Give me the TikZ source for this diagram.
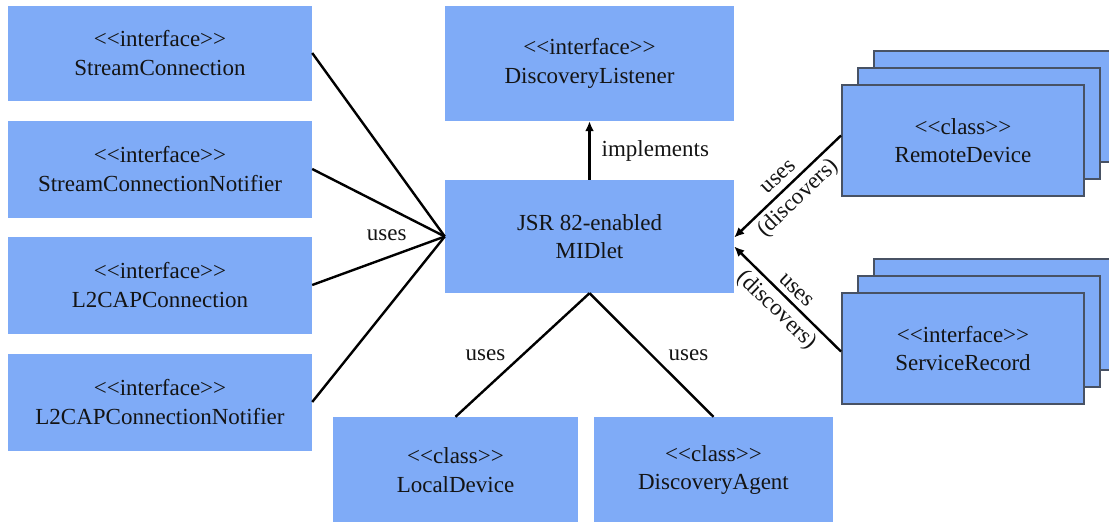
\documentclass[tikz,border=0pt]{standalone}
\usepackage{fontspec}
\newfontfamily\tnr{Liberation Serif}
\usetikzlibrary{arrows.meta,calc}
\definecolor{boxblue}{RGB}{127,171,247}
\definecolor{stackborder}{RGB}{72,82,100}
\definecolor{txt}{RGB}{20,20,20}
\begin{document}
\begin{tikzpicture}[x=1pt,y=-1pt,
  ubox/.style={fill=boxblue, inner sep=0pt, align=center, text=txt,
    font=\tnr\fontsize{23}{28.5}\selectfont},
  lbox/.style={ubox, minimum width=304pt, minimum height=97pt},
  cbox/.style={ubox, minimum width=289pt, minimum height=114pt},
  sbox/.style={ubox, draw=stackborder, line width=2pt, minimum width=242pt, minimum height=111pt},
  lbl/.style={text=txt, inner sep=0pt, font=\tnr\fontsize{23}{28}\selectfont},
  conn/.style={draw=black, line width=2.4pt},
  arr/.style={conn, -{Latex[length=10pt,width=9pt]}}]
\clip (0,0) rectangle (1109,522);
\fill[white] (0,0) rectangle (1109,522);

% left interface boxes
\node[lbox, minimum height=95pt] (sc)  at (160,53)  {<<interface>>\\StreamConnection};
\node[lbox] (scn) at (160,169) {<<interface>>\\StreamConnectionNotifier};
\node[lbox] (l2)  at (160,285) {<<interface>>\\L2CAPConnection};
\node[lbox] (l2n) at (160,402) {<<interface>>\\L2CAPConnectionNotifier};

% centre boxes
\node[cbox, minimum height=115pt] (dl)  at (589.5,63.5)  {<<interface>>\\DiscoveryListener};
\node[cbox, minimum height=113pt] (mid) at (589.5,236.5) {JSR 82-enabled\\MIDlet};

% bottom boxes
\node[ubox, minimum width=245pt, minimum height=106pt] (ld) at (455.5,470) {<<class>>\\LocalDevice};
\node[ubox, minimum width=239pt, minimum height=106pt] (da) at (713.5,470) {<<class>>\\DiscoveryAgent};

% stacked boxes on the right
\node[sbox] (rd3) at (995,106.5) {};
\node[sbox] (rd2) at (979,123.5) {};
\node[sbox] (rd)  at (963,140.5) {<<class>>\\RemoteDevice};
\node[sbox] (sr3) at (995,314.5) {};
\node[sbox] (sr2) at (979,331.5) {};
\node[sbox] (sr)  at (963,348.5) {<<interface>>\\ServiceRecord};

% connectors on the left
\draw[conn] (sc.east)  -- (mid.west);
\draw[conn] (scn.east) -- (mid.west);
\draw[conn] (l2.east)  -- (mid.west);
\draw[conn] (l2n.east) -- (mid.west);
\node[lbl, anchor=east] (uleft) at ($(mid.west)+(-38,-1)$) {uses};

% implements
\draw[arr] (mid.north) -- (dl.south) node[lbl, midway, anchor=west, xshift=11pt] {implements};

% bottom connectors
\draw[conn] (mid.south) -- (ld.north) node[lbl, midway, anchor=east, xshift=-16pt] {uses};
\draw[conn] (mid.south) -- (da.north) node[lbl, midway, anchor=west, xshift=16pt] {uses};

% right arrows
\draw[arr] ($(rd.west)+(0,-5)$) -- ($(mid.east)+(0,1)$)
  node[lbl, pos=0.5, rotate=43.5, yshift=13pt] {uses}
  node[lbl, pos=0.5, rotate=43.5, yshift=-16pt] {(discovers)};
\draw[arr] ($(sr.west)+(0,3)$) -- ($(mid.east)+(0,10)$)
  node[lbl, pos=0.5, rotate=-44.3, yshift=12pt] {uses}
  node[lbl, pos=0.5, rotate=-44.3, yshift=-16pt] {(discovers)};
\end{tikzpicture}
\end{document}
